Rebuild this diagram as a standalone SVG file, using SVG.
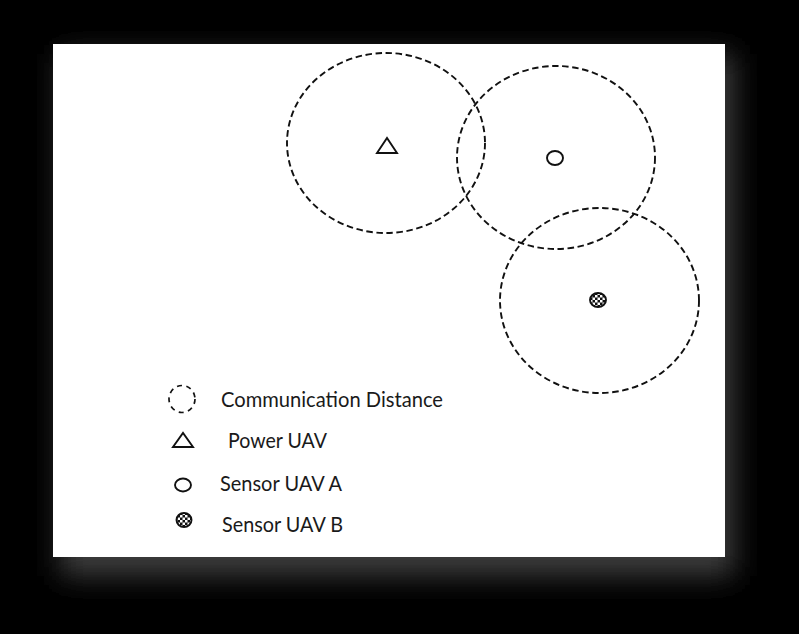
<svg xmlns="http://www.w3.org/2000/svg" width="799" height="634" viewBox="0 0 799 634">
  <style>
    .range { fill: none; stroke: #111; stroke-width: 1.9; stroke-dasharray: 6.5 3.6; }
    .mark { fill: none; stroke: #111; stroke-width: 1.9; }
    .label { font-family: Lato, "Open Sans", "Liberation Sans", sans-serif; font-size: 20.5px; fill: #1a1a1a; }
  </style>
  <defs>
    <filter id="soft" x="-20%" y="-20%" width="140%" height="140%">
      <feGaussianBlur stdDeviation="14"/>
    </filter>
    <pattern id="checks" width="5" height="5" patternUnits="userSpaceOnUse">
      <rect width="5" height="5" fill="#111"/>
      <rect width="2.5" height="2.5" fill="#fff"/>
      <rect x="2.5" y="2.5" width="2.5" height="2.5" fill="#fff"/>
    </pattern>
  </defs>

  <!-- page background and card with soft shadow -->
  <rect width="799" height="634" fill="#000"/>
  <rect x="60" y="54" width="674" height="522" fill="#3c3c3c" filter="url(#soft)"/>
  <rect x="53" y="44" width="672" height="513" fill="#fff"/>

  <!-- communication ranges -->
  <g id="connectors">
    <ellipse class="range" cx="386" cy="143" rx="99" ry="90"/>
    <ellipse class="range" cx="556" cy="157.5" rx="99" ry="91.5"/>
    <ellipse class="range" cx="599.5" cy="300.5" rx="99.5" ry="92.5"/>
  </g>

  <!-- UAVs -->
  <g id="power-uav">
    <polygon class="mark" points="377,153 397,153 387,138"/>
  </g>
  <g id="sensor-uav-a">
    <ellipse class="mark" cx="555" cy="158" rx="8" ry="7"/>
  </g>
  <g id="sensor-uav-b">
    <ellipse cx="598" cy="300" rx="8" ry="7" fill="url(#checks)" stroke="#111" stroke-width="1.9"/>
  </g>

  <!-- legend -->
  <g id="legend-range">
    <ellipse cx="182" cy="399" rx="13" ry="13.5" fill="none" stroke="#111" stroke-width="1.7" stroke-dasharray="5 4.5"/>
    <text class="label" x="221" y="407" textLength="222" lengthAdjust="spacingAndGlyphs">Communication Distance</text>
  </g>
  <g id="legend-power">
    <polygon class="mark" points="173,447 193,447 183,433"/>
    <text class="label" x="228" y="448" textLength="99" lengthAdjust="spacingAndGlyphs">Power UAV</text>
  </g>
  <g id="legend-sensor-a">
    <ellipse class="mark" cx="183" cy="485" rx="8" ry="6.5"/>
    <text class="label" x="220" y="491" textLength="122" lengthAdjust="spacingAndGlyphs">Sensor UAV A</text>
  </g>
  <g id="legend-sensor-b">
    <ellipse cx="184" cy="520" rx="7.5" ry="7" fill="url(#checks)" stroke="#111" stroke-width="1.9"/>
    <text class="label" x="222" y="532" textLength="121" lengthAdjust="spacingAndGlyphs">Sensor UAV B</text>
  </g>
</svg>
